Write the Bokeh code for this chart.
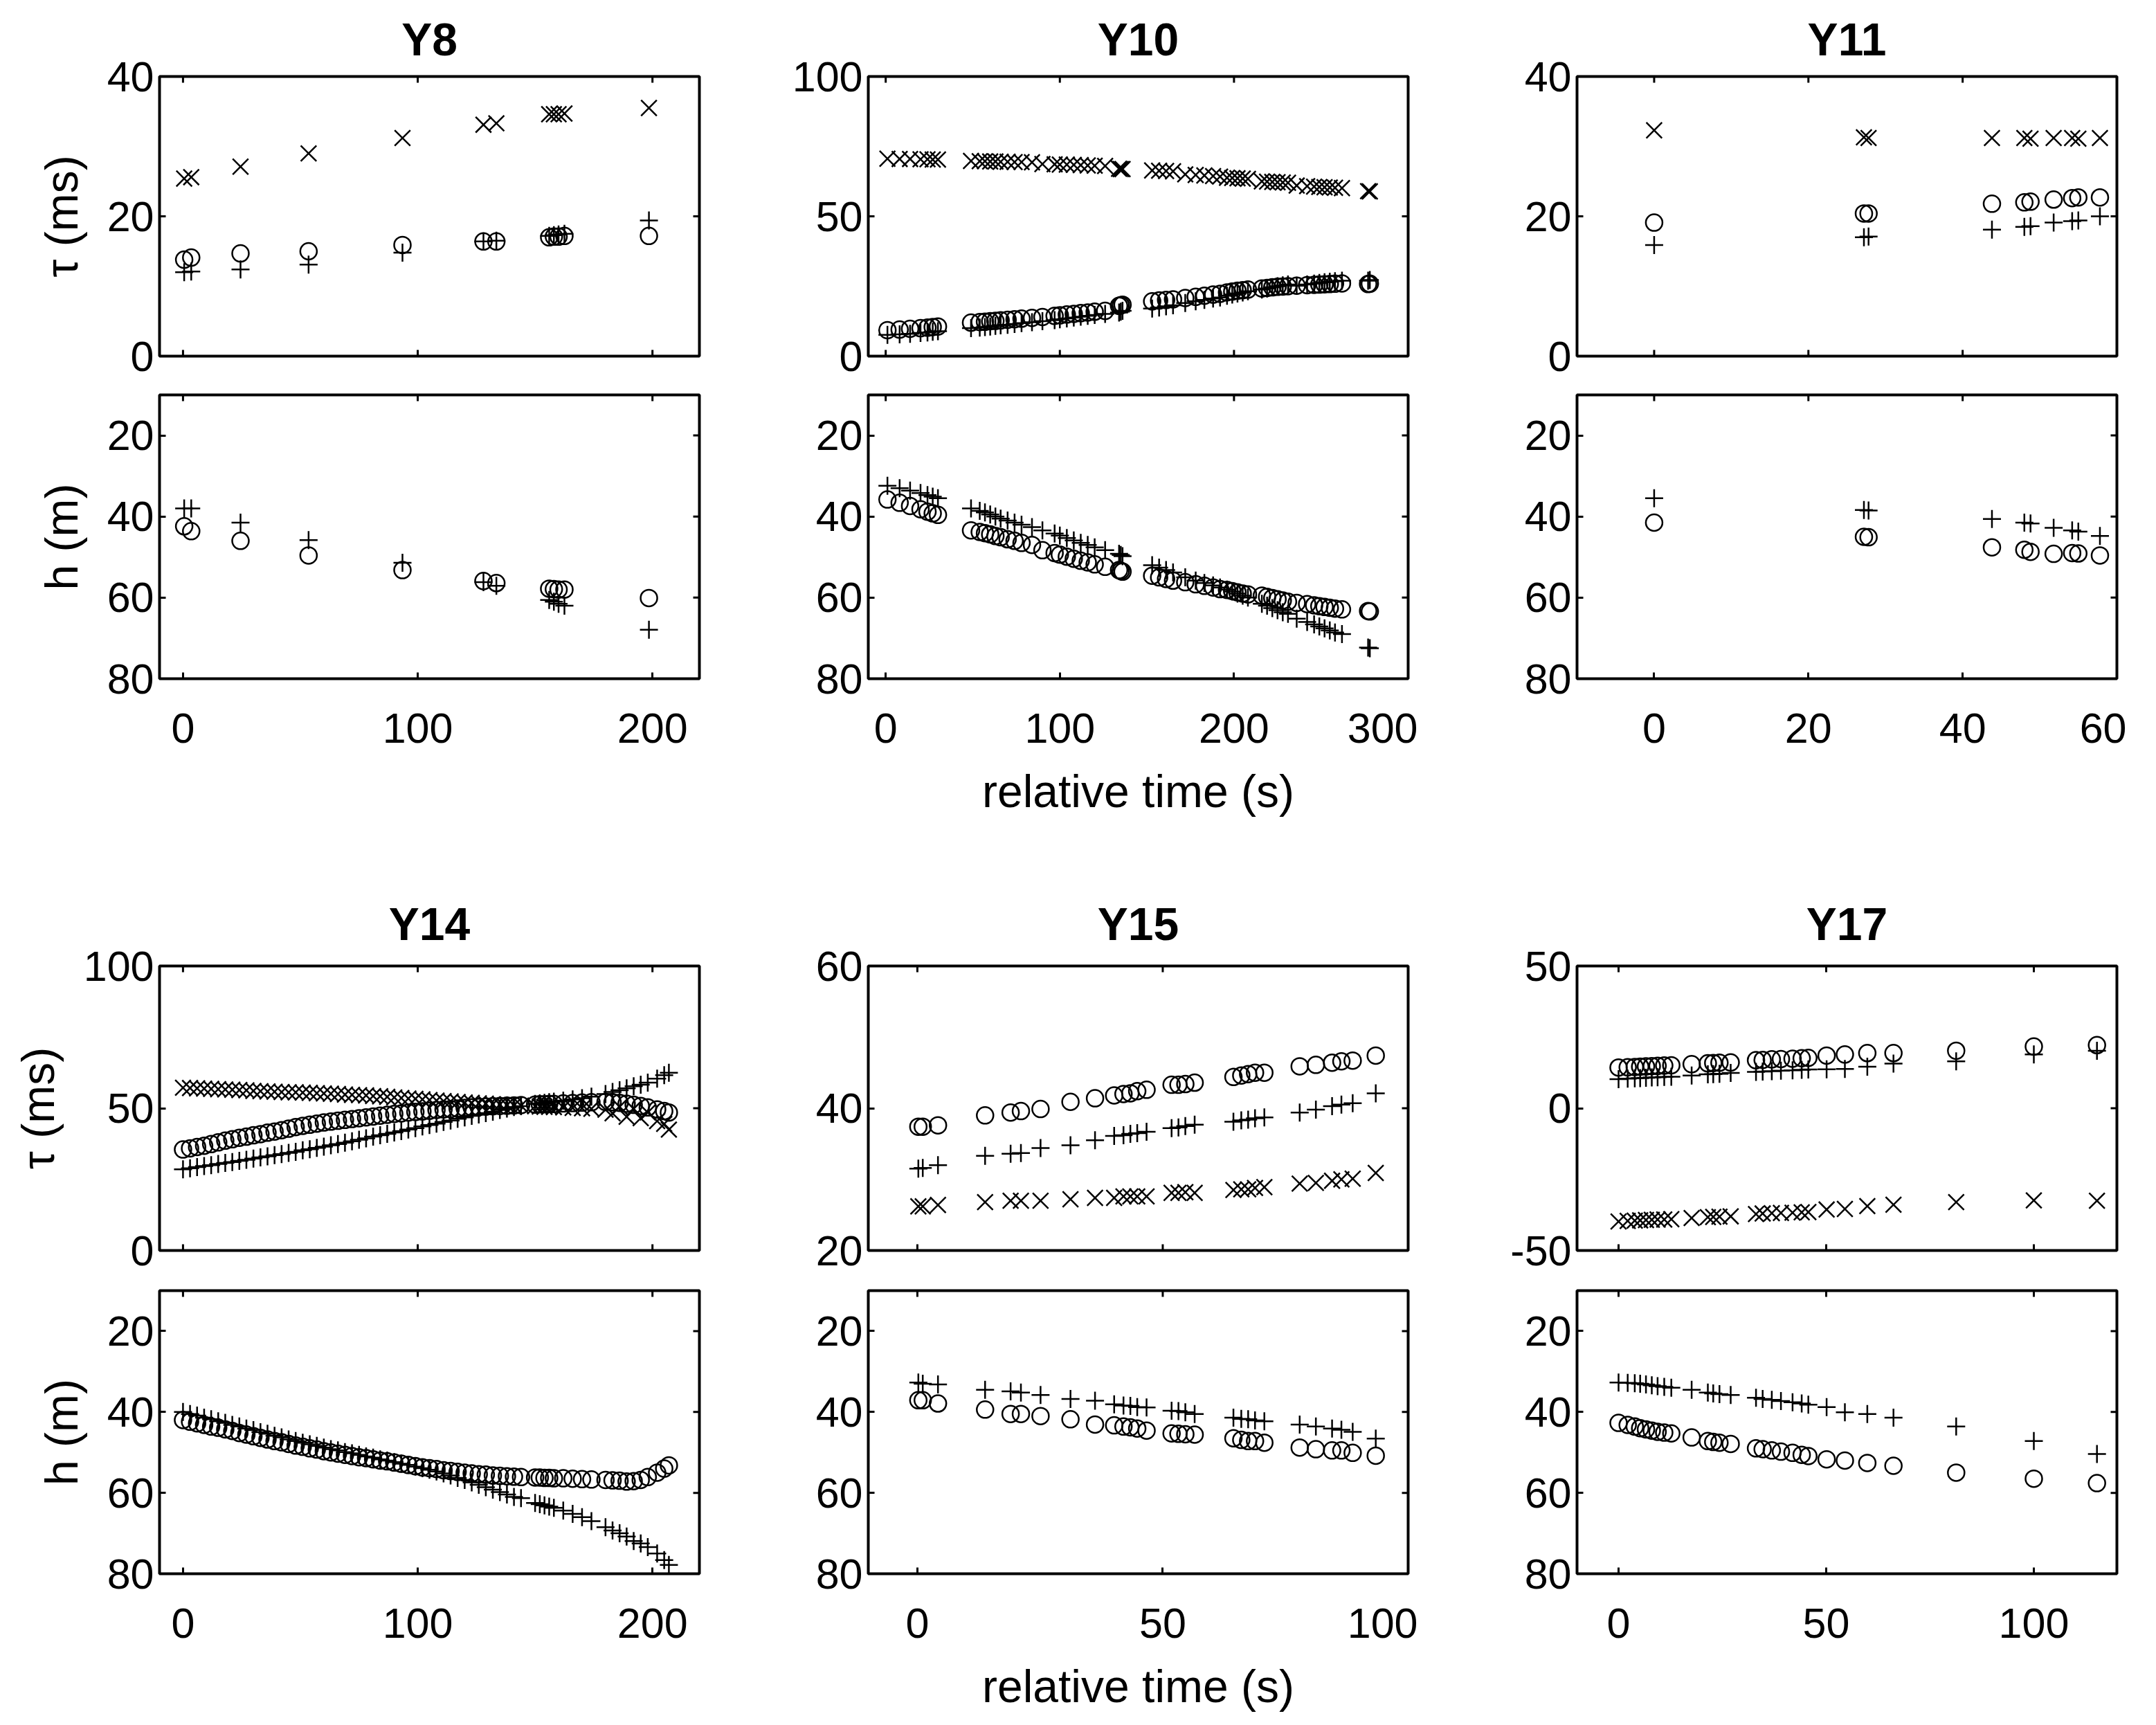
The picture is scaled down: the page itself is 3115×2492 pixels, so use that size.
from bokeh.plotting import figure
from bokeh.models import Range1d, FixedTicker
from bokeh.layouts import column, row
from bokeh.embed import file_html
from bokeh.resources import INLINE

FONT = "Liberation Sans"

# ---------------- data ----------------
# Y8
t8 = [0.5, 3.5, 24.5, 53.5, 93.5, 128, 133.5, 156, 158, 160, 162.5, 198.5]
tau_o8 = [13.8, 14.1, 14.7, 15.0, 15.9, 16.4, 16.4, 17.0, 17.1, 17.1, 17.2, 17.2]
tau_p8 = [12.0, 12.1, 12.4, 13.1, 14.8, 16.4, 16.5, 17.2, 17.3, 17.4, 17.5, 19.4]
tau_x8 = [25.4, 25.6, 27.1, 29.0, 31.2, 33.1, 33.3, 34.6, 34.6, 34.6, 34.7, 35.5]
h_o8 = [42.4, 43.6, 46.0, 49.6, 53.2, 55.9, 56.4, 57.8, 57.9, 58.0, 58.0, 60.1]
h_p8 = [38.0, 38.0, 41.5, 45.8, 51.4, 56.2, 57.1, 60.6, 61.0, 61.5, 62.0, 67.9]

# Y10
t10 = [1, 8, 14, 20, 24, 27, 30, 49, 54, 57, 60, 63, 66, 70, 74, 78, 84,
       90, 97, 100, 104, 108, 112, 116, 120, 126, 134, 135, 136,
       153, 157, 161, 165, 172, 178, 183, 188, 192, 196, 199, 202, 205, 208,
       216, 219, 222, 225, 228, 231, 236, 242, 246, 249, 252, 255, 258, 262, 277, 278]
tau_o10 = [9.3, 9.5, 9.8, 10.0, 10.2, 10.4, 10.6, 12.0, 12.2, 12.3, 12.5, 12.6, 12.8, 13.0, 13.2, 13.4, 13.7,
           14.0, 14.4, 14.6, 14.9, 15.1, 15.4, 15.6, 15.9, 16.2, 18.0, 18.2, 18.4,
           19.6, 19.9, 20.1, 20.3, 20.8, 21.2, 21.6, 22.0, 22.3, 22.8, 23.1, 23.4, 23.6, 23.8,
           24.2, 24.4, 24.6, 24.8, 24.9, 25.0, 25.2, 25.4, 25.5, 25.6, 25.7, 25.8, 25.9, 26.0, 25.8, 25.9]
tau_p10 = [7.6, 7.8, 8.0, 8.3, 8.5, 8.7, 8.9, 10.0, 10.2, 10.4, 10.6, 10.8, 11.0, 11.2, 11.5, 11.8, 12.1,
           12.5, 12.9, 13.2, 13.5, 13.8, 14.1, 14.4, 14.7, 15.1, 15.6, 15.9, 16.2,
           17.0, 17.4, 17.8, 18.2, 19.0, 19.6, 20.1, 20.6, 21.0, 21.6, 22.0, 22.4, 22.8, 23.2,
           23.8, 24.2, 24.6, 25.0, 25.3, 25.6, 25.2, 25.6, 25.9, 26.2, 26.4, 26.6, 26.8, 27.0, 27.0, 27.2]
tau_x10 = [70.6, 70.5, 70.5, 70.4, 70.4, 70.3, 70.3, 69.8, 69.7, 69.7, 69.6, 69.6, 69.5, 69.5, 69.4, 69.4, 69.3,
           68.7, 68.6, 68.5, 68.5, 68.4, 68.3, 68.2, 68.1, 68.0, 67.0, 66.9, 66.9,
           66.4, 66.3, 66.2, 66.1, 65.0, 64.8, 64.6, 64.4, 64.2, 63.8, 63.7, 63.6, 63.5, 63.4,
           62.5, 62.4, 62.3, 62.2, 62.1, 62.0, 61.0, 60.8, 60.6, 60.5, 60.4, 60.3, 60.2, 60.1, 59.0, 58.9]
h_o10 = [35.8, 36.6, 37.4, 38.2, 38.8, 39.2, 39.6, 43.4, 43.8, 44.1, 44.4, 44.8, 45.1, 45.6, 46.0, 46.5, 47.0,
         48.3, 49.0, 49.4, 49.9, 50.4, 50.9, 51.3, 51.8, 52.4, 53.2, 53.4, 53.6,
         54.6, 55.0, 55.4, 55.8, 56.2, 56.7, 57.1, 57.5, 57.9, 58.1, 58.4, 58.7, 59.0, 59.2,
         59.5, 59.8, 60.1, 60.4, 60.7, 61.0, 61.3, 61.6, 61.9, 62.1, 62.3, 62.5, 62.7, 62.9, 63.3, 63.4]
h_p10 = [32.4, 33.0, 33.6, 34.2, 34.7, 35.1, 35.5, 38.0, 38.6, 39.0, 39.5, 40.0, 40.5, 41.0, 41.5, 42.0, 42.6,
         43.4, 44.2, 44.7, 45.3, 45.9, 46.5, 47.0, 47.6, 48.3, 49.2, 49.5, 49.8,
         52.0, 52.6, 53.2, 53.8, 55.0, 55.8, 56.4, 57.0, 57.5, 58.0, 58.5, 59.0, 59.5, 60.0,
         61.5, 62.0, 62.6, 63.1, 63.6, 64.0, 65.2, 66.0, 66.6, 67.1, 67.6, 68.1, 68.6, 69.0, 72.3, 72.5]

# Y11
t11 = [0, 27.2, 27.8, 43.8, 48.0, 48.8, 51.8, 54.2, 55.0, 57.8]
tau_o11 = [19.1, 20.4, 20.4, 21.8, 22.0, 22.1, 22.4, 22.6, 22.7, 22.7]
tau_p11 = [15.9, 17.0, 17.1, 18.1, 18.5, 18.6, 19.1, 19.3, 19.4, 20.0]
tau_x11 = [32.3, 31.3, 31.2, 31.2, 31.2, 31.1, 31.2, 31.2, 31.1, 31.2]
h_o11 = [41.5, 45.0, 45.1, 47.6, 48.2, 48.7, 49.2, 49.0, 49.1, 49.6]
h_p11 = [35.5, 38.4, 38.5, 40.6, 41.5, 41.7, 42.8, 43.4, 43.7, 44.8]

# Y14
t14 = [0, 3, 6, 9, 12, 15, 18, 21, 24, 27, 30, 33, 36, 39, 42, 45, 48, 51, 54, 57,
       60, 63, 66, 69, 72, 75, 78, 81, 84, 87, 90, 93, 96, 99, 102, 105, 108, 111, 114, 117,
       120, 123, 126, 129, 132, 135, 138, 141, 144,
       150, 152, 154, 156, 158, 162, 166, 170, 174, 180, 183, 186, 189, 192, 195, 198, 202, 205, 207]
tau_o14 = [35.5, 35.9, 36.4, 36.8, 37.4, 38.0, 38.6, 39.1, 39.6, 40.0, 40.5, 40.9, 41.4, 41.8, 42.3, 42.8, 43.4, 43.8, 44.2, 44.6,
           45.0, 45.3, 45.6, 45.9, 46.2, 46.5, 46.8, 47.1, 47.4, 47.7, 48.0, 48.2, 48.5, 48.7, 48.9, 49.1, 49.4, 49.6, 49.7, 49.9,
           50.1, 50.3, 50.4, 50.6, 50.7, 50.8, 50.9, 51.0, 51.1,
           51.3, 51.4, 51.4, 51.5, 51.5, 51.7, 51.8, 52.0, 52.1, 52.2, 52.1, 51.9, 51.6, 51.2, 50.8, 50.3, 49.6, 49.0, 48.5]
tau_p14 = [28.5, 28.9, 29.3, 29.7, 30.0, 30.4, 30.8, 31.1, 31.5, 31.9, 32.3, 32.7, 33.1, 33.5, 33.9, 34.3, 34.7, 35.2, 35.6, 36.1,
           36.5, 37.0, 37.4, 37.9, 38.4, 38.9, 39.4, 40.0, 40.5, 41.0, 41.5, 42.0, 42.5, 43.0, 43.6, 44.1, 44.6, 45.2, 45.7, 46.3,
           46.8, 47.3, 47.8, 48.3, 48.8, 49.4, 49.9, 50.4, 50.7,
           51.5, 51.7, 51.9, 52.1, 52.3, 52.7, 53.1, 53.5, 54.1, 55.0, 55.7, 56.3, 57.0, 57.7, 58.3, 59.0, 60.4, 61.6, 62.5]
tau_x14 = [57.2, 57.1, 57.0, 56.9, 56.8, 56.7, 56.6, 56.5, 56.4, 56.3, 56.1, 56.0, 55.9, 55.8, 55.7, 55.6, 55.6, 55.5, 55.4, 55.3,
           55.2, 55.1, 55.0, 54.8, 54.7, 54.6, 54.5, 54.3, 54.2, 54.0, 53.8, 53.6, 53.4, 53.3, 53.1, 52.9, 52.7, 52.5, 52.4, 52.2,
           52.0, 51.9, 51.7, 51.6, 51.4, 51.3, 51.1, 51.0, 50.9,
           50.7, 50.6, 50.5, 50.5, 50.4, 50.3, 50.1, 50.0, 49.8, 49.5, 48.2, 50.5, 47.0, 49.8, 46.5, 48.5, 45.5, 44.5, 42.5]
h_o14 = [42.0, 42.4, 42.8, 43.2, 43.6, 43.9, 44.3, 44.7, 45.2, 45.6, 46.0, 46.4, 46.8, 47.2, 47.5, 47.9, 48.3, 48.6, 49.0, 49.3,
         49.7, 50.0, 50.3, 50.6, 50.9, 51.2, 51.4, 51.7, 52.0, 52.2, 52.5, 52.8, 53.1, 53.4, 53.7, 53.9, 54.1, 54.4, 54.6, 54.8,
         55.0, 55.2, 55.4, 55.5, 55.7, 55.8, 55.9, 56.0, 56.1,
         56.2, 56.2, 56.3, 56.3, 56.4, 56.4, 56.5, 56.6, 56.7, 56.8, 56.9, 57.0, 57.2, 57.1, 56.8, 56.1, 55.0, 54.0, 53.2]
h_p14 = [40.0, 40.5, 40.9, 41.4, 41.8, 42.3, 42.7, 43.2, 43.6, 44.1, 44.5, 45.0, 45.4, 45.9, 46.3, 46.8, 47.2, 47.6, 48.0, 48.4,
         48.8, 49.2, 49.5, 49.9, 50.2, 50.6, 51.0, 51.3, 51.7, 52.0, 52.4, 52.8, 53.1, 53.5, 53.9, 54.3, 54.7, 55.2, 55.7, 56.3,
         56.8, 57.4, 58.0, 58.6, 59.2, 59.8, 60.4, 61.0, 61.3,
         62.5, 62.8, 63.1, 63.4, 63.7, 64.4, 65.2, 66.0, 67.0, 68.5, 69.3, 70.0, 70.8, 71.9, 72.5, 73.4, 75.0, 76.6, 77.8]

# Y15
t15 = [0.2, 1.1, 4.2, 13.8, 19.0, 21.1, 25.1, 31.2, 36.2, 40.1, 42.0, 43.4, 44.8, 46.7, 51.8, 53.2, 54.6, 56.5,
       64.4, 66.0, 67.4, 68.8, 70.7, 77.9, 81.2, 84.5, 86.4, 88.7, 93.4]
tau_o15 = [37.4, 37.4, 37.6, 39.0, 39.4, 39.6, 39.9, 40.9, 41.4, 41.8, 42.0, 42.1, 42.4, 42.6, 43.3, 43.3, 43.4, 43.6,
           44.4, 44.6, 44.8, 45.0, 45.0, 45.9, 46.1, 46.4, 46.6, 46.7, 47.4]
tau_p15 = [31.5, 31.6, 32.0, 33.3, 33.6, 33.7, 34.4, 34.8, 35.5, 36.1, 36.2, 36.4, 36.5, 36.7, 37.2, 37.3, 37.5, 37.7,
           38.1, 38.3, 38.4, 38.6, 38.7, 39.4, 39.8, 40.3, 40.5, 40.7, 42.1]
tau_x15 = [26.2, 26.2, 26.4, 26.8, 27.0, 27.0, 27.0, 27.2, 27.4, 27.4, 27.6, 27.6, 27.6, 27.6, 28.1, 28.1, 28.2, 28.1,
           28.5, 28.6, 28.6, 28.8, 28.9, 29.4, 29.5, 29.8, 30.0, 30.1, 30.9]
h_o15 = [37.1, 37.1, 37.9, 39.4, 40.5, 40.5, 41.0, 41.8, 43.1, 43.3, 43.6, 43.8, 44.1, 44.6, 45.3, 45.4, 45.5, 45.6,
         46.5, 46.9, 47.2, 47.2, 47.6, 48.8, 49.2, 49.5, 49.5, 50.1, 50.8]
h_p15 = [32.7, 33.0, 33.2, 34.5, 34.9, 35.2, 35.8, 36.8, 37.2, 38.1, 38.4, 38.5, 38.8, 38.9, 39.7, 39.8, 40.1, 40.5,
         41.4, 41.7, 41.8, 42.1, 42.3, 43.1, 43.6, 44.1, 44.4, 44.9, 46.6]

# Y17
t17 = [0, 2.2, 3.9, 5.2, 6.6, 8.0, 9.4, 11.0, 12.7, 17.6, 21.5, 22.8, 24.3, 27.0, 33.1, 34.7, 36.9, 39.1,
       41.9, 44.1, 45.7, 50.1, 54.5, 59.9, 66.2, 81.3, 100.0, 115.2]
tau_o17 = [14.3, 14.4, 14.5, 14.6, 14.7, 14.8, 14.9, 15.0, 15.1, 15.5, 15.8, 15.9, 16.0, 16.1, 16.9, 17.0, 17.2, 17.3,
           17.4, 17.6, 17.7, 18.5, 18.9, 19.4, 19.4, 20.2, 21.7, 22.2]
tau_p17 = [10.2, 10.4, 10.5, 10.6, 10.7, 10.8, 10.9, 11.0, 11.1, 11.5, 11.9, 12.0, 12.1, 12.4, 12.8, 12.9, 13.0, 13.2,
           13.3, 13.5, 13.6, 13.7, 13.8, 14.6, 15.7, 16.5, 18.9, 20.2]
tau_x17 = [-39.8, -39.6, -39.5, -39.4, -39.3, -39.2, -39.1, -39.1, -39.0, -38.6, -38.3, -38.2, -38.1, -38.0, -37.2, -37.0,
           -36.9, -36.8, -36.7, -36.6, -36.5, -35.6, -35.4, -34.4, -33.9, -33.0, -32.4, -32.5]
h_o17 = [42.7, 43.2, 43.6, 44.0, 44.3, 44.6, 44.9, 45.1, 45.3, 46.3, 47.2, 47.4, 47.6, 47.9, 49.0, 49.2, 49.5, 49.8,
         50.1, 50.6, 50.9, 51.7, 52.0, 52.6, 53.3, 55.0, 56.5, 57.6]
h_p17 = [32.7, 32.8, 32.9, 33.0, 33.2, 33.4, 33.6, 33.8, 34.0, 34.5, 35.2, 35.4, 35.6, 35.8, 36.5, 36.8, 37.0, 37.3,
         37.6, 37.9, 38.2, 38.8, 40.1, 40.5, 41.4, 43.6, 47.2, 50.4]

titles = ["Y8", "Y10", "Y11", "Y14", "Y15", "Y17"]
times = [t8, t10, t11, t14, t15, t17]
tau_o = [tau_o8, tau_o10, tau_o11, tau_o14, tau_o15, tau_o17]
tau_p = [tau_p8, tau_p10, tau_p11, tau_p14, tau_p15, tau_p17]
tau_x = [tau_x8, tau_x10, tau_x11, tau_x14, tau_x15, tau_x17]
h_o = [h_o8, h_o10, h_o11, h_o14, h_o15, h_o17]
h_p = [h_p8, h_p10, h_p11, h_p14, h_p15, h_p17]
x_ranges = [(-10, 220), (-10, 300), (-10, 60), (-10, 220), (-10, 100), (-10, 120)]
x_ticks = [[0, 100, 200], [0, 100, 200, 300], [0, 20, 40, 60], [0, 100, 200], [0, 50, 100], [0, 50, 100]]
tau_ranges = [(0, 40), (0, 100), (0, 40), (0, 100), (20, 60), (-50, 50)]
tau_ticks = [[0, 20, 40], [0, 50, 100], [0, 20, 40], [0, 50, 100], [20, 40, 60], [-50, 0, 50]]
h_range = (80, 10)
h_ticks = [20, 40, 60, 80]
y_label_top = "τ (ms)"
y_label_bottom = "h (m)"
x_label = "relative time (s)"

for i in range(6):
    n = len(times[i])
    for s in (tau_o[i], tau_p[i], tau_x[i], h_o[i], h_p[i]):
        assert len(s) == n, (titles[i], len(s), n)

TICK_LEN = 9
TICK_W = 3
FIG_W = 1024
B_LEFT = 230
B_RIGHT = 14


def style_axis(ax, ticks):
    ax.ticker = FixedTicker(ticks=ticks)
    ax.axis_line_color = None
    ax.major_tick_in = TICK_LEN
    ax.major_tick_out = 0
    ax.major_tick_line_width = TICK_W
    ax.major_tick_line_color = "black"
    ax.minor_tick_line_color = None
    ax.major_label_text_font = FONT
    ax.major_label_text_color = "black"
    ax.major_label_text_font_size = "61px"
    ax.major_label_overrides = {t: str(t) for t in ticks}
    ax.axis_label_text_font = FONT
    ax.axis_label_text_font_size = "66px"
    ax.axis_label_text_font_style = "normal"
    ax.axis_label_text_color = "black"


def tick_rays(p, xs, ys, angle):
    p.ray(x=xs, y=ys, length=TICK_LEN, angle=angle, angle_units="deg",
          length_units="screen", line_color="black", line_width=TICK_W)


def make_panel(i, top, height, b_top, b_bottom, title_standoff=0):
    xr = x_ranges[i]
    yr = tau_ranges[i] if top else h_range
    p = figure(width=FIG_W, height=height, x_range=Range1d(*xr), y_range=Range1d(*yr),
               output_backend="svg", toolbar_location=None, tools="",
               min_border_left=B_LEFT, min_border_right=B_RIGHT,
               min_border_top=b_top, min_border_bottom=b_bottom,
               background_fill_color="white", border_fill_color="white")
    p.xgrid.grid_line_color = None
    p.ygrid.grid_line_color = None
    p.outline_line_color = "black"
    p.outline_line_width = 4
    p.outline_line_alpha = 1.0

    xt = x_ticks[i]
    yt = tau_ticks[i] if top else h_ticks
    xax = p.below[0]
    yax = p.left[0]
    style_axis(xax, xt)
    style_axis(yax, yt)
    xax.major_label_standoff = 50
    yax.major_label_standoff = 8

    # ticks on the top and right edges (and bottom edge of upper panels)
    tick_rays(p, xt, [yr[1]] * len(xt), -90)
    tick_rays(p, [xr[1]] * len(yt), yt, 180)
    if top:
        xax.visible = False
        tick_rays(p, xt, [yr[0]] * len(xt), 90)

    if i % 3 == 0:
        yax.axis_label = y_label_top if top else y_label_bottom
        yax.axis_label_standoff = 26
    if (i % 3 == 1) and not top:
        xax.axis_label = x_label
        xax.axis_label_standoff = 30

    t = times[i]
    kw = dict(line_color="black", fill_color=None, line_width=2.5)
    if top:
        p.scatter(t, tau_x[i], marker="x", size=32, **kw)
        p.scatter(t, tau_o[i], marker="circle", size=24, **kw)
        p.scatter(t, tau_p[i], marker="cross", size=26, **kw)
        p.title.text = titles[i]
        p.title.align = "center"
        p.title.text_font = FONT
        p.title.text_font_size = "66px"
        p.title.text_font_style = "bold"
        p.title.text_color = "black"
        p.title.standoff = title_standoff
    else:
        p.scatter(t, h_o[i], marker="circle", size=24, **kw)
        p.scatter(t, h_p[i], marker="cross", size=26, **kw)
    return p


rowA = row([make_panel(i, True, 556, 104, 42, title_standoff=34) for i in range(3)])
rowB = row([make_panel(i, False, 626, 14, 200) for i in range(3)])
rowC = row([make_panel(i, True, 668, 213, 44, title_standoff=47) for i in range(3, 6)])
rowD = row([make_panel(i, False, 625, 14, 202) for i in range(3, 6)])
layout = column([rowA, rowB, rowC, rowD])

open("out.html", "w").write(file_html(layout, INLINE))
